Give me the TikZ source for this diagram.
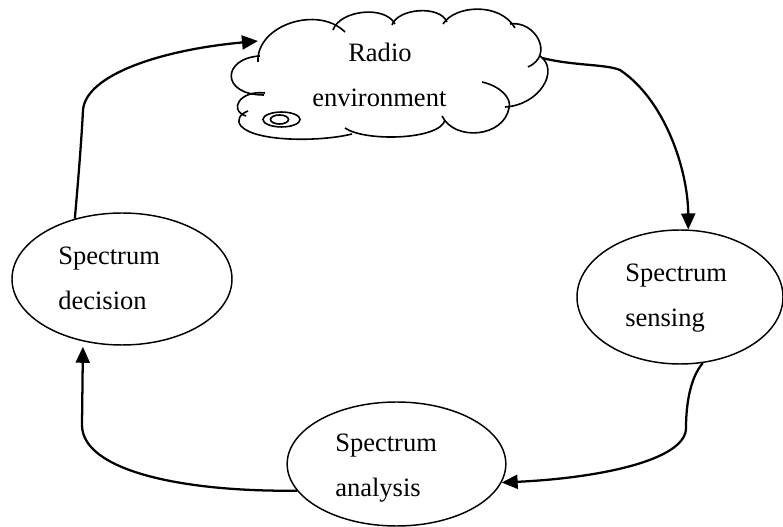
\documentclass[tikz,border=0pt]{standalone}
\usepackage{fontspec}
\setmainfont{Liberation Serif}
\usetikzlibrary{arrows.meta,shapes.geometric}

\tikzset{
  lbl/.style={anchor=base west, inner sep=0pt, font=\fontsize{19.9pt}{24pt}\selectfont},
  stage/.style={draw, ellipse, line width=1.1pt, inner sep=0pt},
  cloudline/.style={line width=1.2pt},
  arr/.style={line width=1.7pt, -{Triangle[length=12pt,width=10.5pt]}},
}

\begin{document}
\begin{tikzpicture}[x=0.75pt, y=-0.75pt]
\useasboundingbox (0,0) rectangle (783,527);

% --- the three stage ellipses ---
\node[stage, minimum width=165pt, minimum height=99pt]   (dec)  at (122,279) {};
\node[stage, minimum width=154.5pt, minimum height=100.5pt] (sens) at (680,297) {};
\node[stage, minimum width=164pt, minimum height=93pt]   (ana)  at (396.5,464) {};

% --- cloud: lobes drawn one by one, each ending in a short inner tail ---
\begin{scope}[cloudline]
  \draw (258,62) .. controls (256,25) and (318,5) .. (345,32);
  \draw (333,30) .. controls (340,10) and (385,5) .. (395,24);
  \draw (392,25) .. controls (398,8) and (440,5) .. (447,22);
  \draw (443,24) .. controls (455,5) and (500,2) .. (515,28);
  \draw (510,24) .. controls (535,20) and (555,55) .. (528,67);
  \draw (540,56) .. controls (560,70) and (540,105) .. (505,107);
  \draw (482,82) .. controls (500,86) and (512,98) .. (509,108)
                 .. controls (504,137) and (455,142) .. (442,116);
  \draw (445,120) .. controls (440,140) and (365,142) .. (345,128);
  \draw (352,134) .. controls (320,142) and (255,142) .. (241,126)
                  .. controls (236,120) and (240,114) .. (248,111);
  \draw (265,93) .. controls (240,90) and (228,110) .. (246,116);
  \draw (260,56) .. controls (222,58) and (220,95) .. (264,95);
  % small ring at the lower left
  \draw (281.5,119.5) ellipse [x radius=13.9pt, y radius=5.6pt];
  \draw (279.5,119.5) ellipse [x radius=6.75pt, y radius=3.4pt];
\end{scope}
\coordinate (cR) at (542,58);
\coordinate (cL) at (258,41);

% --- labels ---
\node[lbl] (t1) at (348,62)  {Radio};
\node[lbl] (t2) at (312,107) {environment};
\node[lbl] (t3) at (625,282) {Spectrum};
\node[lbl] (t4) at (625,327) {sensing};
\node[lbl] (t5) at (335,452) {Spectrum};
\node[lbl] (t6) at (335,497) {analysis};
\node[lbl] (t7) at (58,265)  {Spectrum};
\node[lbl] (t8) at (58,310)  {decision};

% --- cycle connectors ---
\draw[arr] (cR) .. controls (575,66) and (605,64) .. (620,70)
               .. controls (665,100) and (688,170) .. (sens.83);
\draw[arr] (sens.289) .. controls (690,378) and (686,405) .. (686,428)
                      .. controls (686,460) and (600,478) .. (ana.350);
\draw[arr, shorten >=4pt] (ana.195) .. controls (180,492) and (82,470) .. (82,425) -- (dec.238);
\draw[arr] (dec.128) .. controls (80,160) and (82,130) .. (83,110)
                     .. controls (86,75) and (160,50) .. (cL);
\end{tikzpicture}
\end{document}
